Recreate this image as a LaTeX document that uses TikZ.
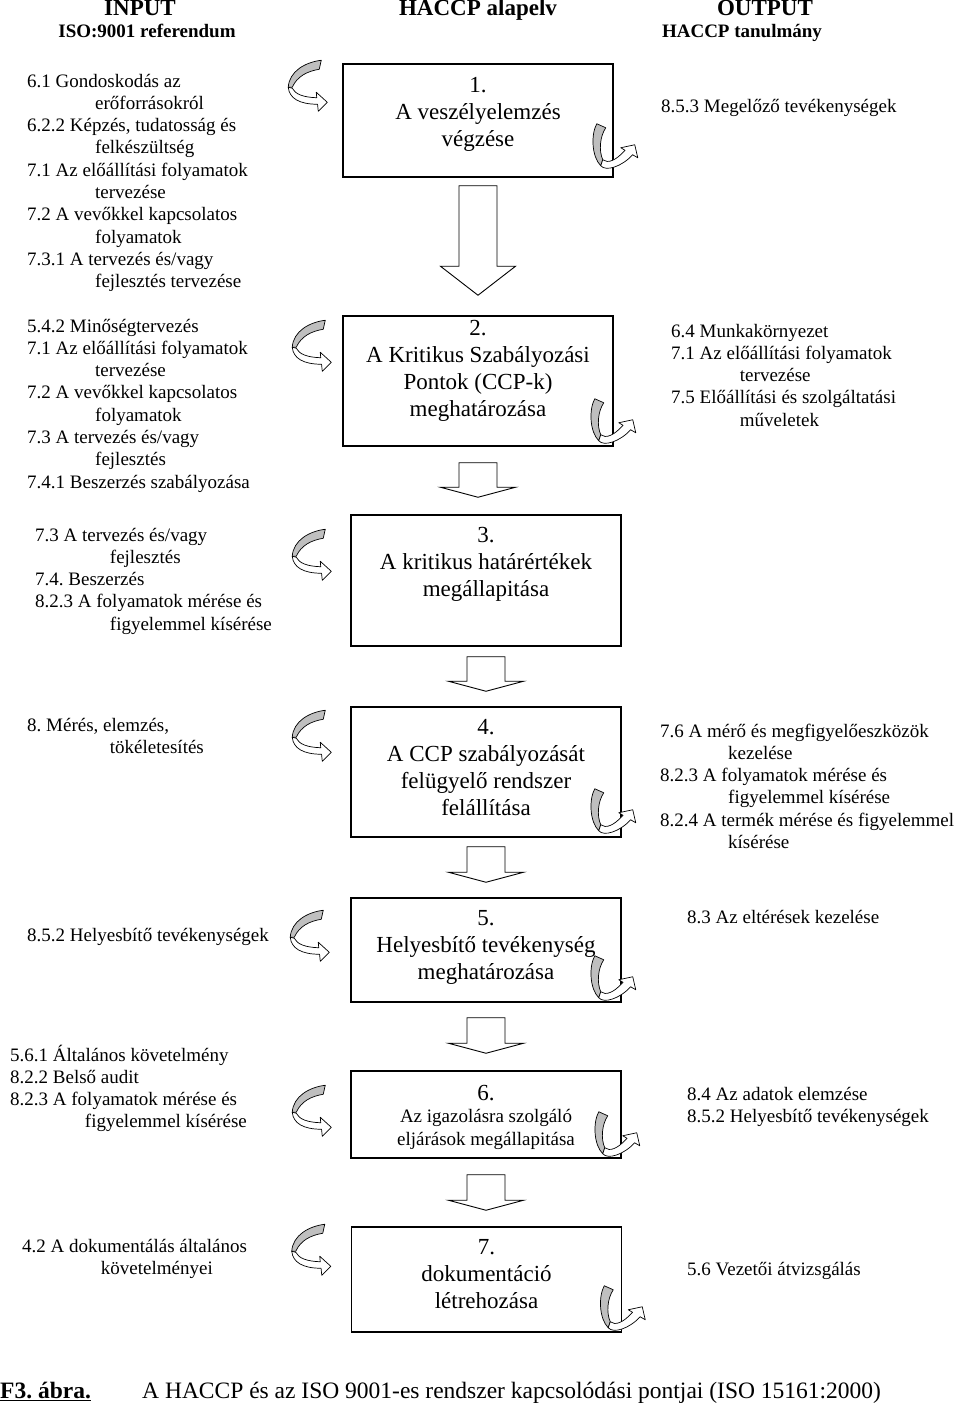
\documentclass[tikz,border=0pt]{standalone}
\usepackage{fontspec}
\setmainfont{Liberation Serif}
\usepackage{tikz}
\usetikzlibrary{calc}
\usetikzlibrary{positioning}
\frenchspacing

\newcommand{\ind}[1][68pt]{\hspace*{#1}}
\newcommand{\flowarrow}[5][10]{%
  \coordinate (fatop) at ($(#2.south)+(0,#4)$);
  \coordinate (fatip) at ($(#2.south|-#3.north)+(0,-#5)$);
  \draw[blockarrow] ($(fatop)+(-19,0)$) -- ($(fatop)+(19,0)$)
    -- ($(fatip)+(19,-#1)$) -- ($(fatip)+(37.5,-#1)$) -- (fatip)
    -- ($(fatip)+(-37.5,-#1)$) -- ($(fatip)+(-19,-#1)$) -- cycle;
}

\tikzset{
  hbox/.style={
    draw=black,
    line width=1.5pt,
    inner sep=0pt,
    minimum width=270pt,
  },
  htext/.style={
    align=center,
    inner sep=0pt,
    anchor=base,
    font=\fontsize{23}{27}\selectfont
  },
  reftext/.style={
    align=left,
    inner sep=0pt,
    anchor=base west,
    font=\fontsize{19}{22.3}\selectfont
  },
  headtext/.style={
    inner sep=0pt,
    anchor=base,
    font=\fontsize{23}{27}\selectfont\bfseries
  },
  subhead/.style={
    inner sep=0pt,
    anchor=base,
    font=\fontsize{19}{22}\selectfont\bfseries
  },
  captext/.style={
    inner sep=0pt,
    anchor=base west,
    font=\fontsize{23.5}{28}\selectfont
  },
  blockarrow/.style={
    draw=black,
    line width=0.9pt,
    fill=white,
    line join=miter,
  },
  band/.style={
    draw=black,
    line width=0.7pt,
    line join=round,
  },
  pics/inarrow/.style={code={
    \filldraw[band, fill=gray!50] (-6,-42) -- (-8,-33)
      .. controls (-20,-31) and (-30,-26) .. (-35,-15) -- (-39,-15)
      .. controls (-38,-31) and (-22,-40) .. cycle;
    \filldraw[band, fill=white] (-39,-15)
      .. controls (-38,-4) and (-28,2) .. (-9.7,2) -- (-9,9) -- (0,0)
      -- (-11,-10) -- (-10.5,-4.5)
      .. controls (-24,-5) and (-32,-8) .. (-35,-14) -- cycle;
  }},
  pics/outarrow/.style={code={
    \filldraw[band, fill=gray!50] (-9,-47) -- (0,-43)
      .. controls (-6,-34) and (-7,-20) .. (-3,-11) -- (-5,-5)
      .. controls (-14,-14) and (-15,-36) .. cycle;
    \filldraw[band, fill=white] (-5,-5)
      .. controls (0,1) and (16,-4) .. (26.9,-16) -- (32,-13) -- (29,-26)
      -- (15,-23) -- (19.25,-20.5)
      .. controls (10,-10) and (2,-7) .. (-3,-11) -- cycle;
  }},
}

\begin{document}
\begin{tikzpicture}[x=1pt, y=-1pt]
  \path[use as bounding box, fill=white] (0,0) rectangle (960,1408);

  % headings
  \node[headtext] (hin) at (140,16) {INPUT};
  \node[subhead] (hiso) at (147,37) {ISO:9001 referendum};
  \node[headtext] (hmid) at (478,16) {HACCP alapelv};
  \node[headtext] (hout) at (765,16) {OUTPUT};
  \node[subhead] (htan) at (742,37) {HACCP tanulmány};

  % HACCP steps
  \node[hbox, minimum height=113pt] (b1) at (478,120.5) {};
  \node[hbox, minimum height=130pt] (b2) at (478,381) {};
  \node[hbox, minimum height=131pt] (b3) at (486,580.5) {};
  \node[hbox, minimum height=130pt] (b4) at (486,772) {};
  \node[hbox, minimum height=104pt] (b5) at (486,950) {};
  \node[hbox, minimum height=87pt] (b6) at (486,1114.5) {};
  \node[hbox, minimum height=105pt] (b7) at (486.5,1279.5) {};

  % (base of a text = its last line)
  \node[htext] (t1) at ($(b1.north)+(0,83)$) {1.\\A veszélyelemzés\\végzése};
  \node[htext] (t2) at ($(b2.north)+(0,101)$) {2.\\A Kritikus Szabályozási\\Pontok (CCP-k)\\meghatározása};
  \node[htext] (t3) at ($(b3.north)+(0,82)$) {3.\\A kritikus határértékek\\megállapitása};
  \node[htext] (t4) at ($(b4.north)+(0,109)$) {4.\\A CCP szabályozását\\felügyelő rendszer\\felállítása};
  \node[htext] (t5) at ($(b5.north)+(0,82)$) {5.\\Helyesbítő tevékenység\\meghatározása};
  \node[htext, font=\fontsize{19}{22.5}\selectfont] (t6) at ($(b6.north)+(0,75)$)
    {{\fontsize{23}{27}\selectfont 6.}\\Az igazolásra szolgáló\\eljárások megállapitása};
  \node[htext] (t7) at ($(b7.north)+(0,82)$) {7.\\dokumentáció\\létrehozása};

  % block arrows between the steps
  \flowarrow[29]{b1}{b2}{8}{20}
  \flowarrow{b2}{b3}{16}{17}
  \flowarrow{b3}{b4}{10}{15}
  \flowarrow{b4}{b5}{9}{15}
  \flowarrow{b5}{b6}{15}{17}
  \flowarrow{b6}{b7}{16}{16}

  % ISO 9001 input
  \node[reftext] (in1) at (27,287.7) {6.1 Gondoskodás az\\\ind erőforrásokról\\6.2.2 Képzés, tudatosság és\\\ind felkészültség\\7.1 Az előállítási folyamatok\\\ind tervezése\\7.2 A vevőkkel kapcsolatos\\\ind folyamatok\\7.3.1 A tervezés és/vagy\\\ind fejlesztés tervezése};
  \node[reftext] (in2) at (27,488.1) {5.4.2 Minőségtervezés\\7.1 Az előállítási folyamatok\\\ind tervezése\\7.2 A vevőkkel kapcsolatos\\\ind folyamatok\\7.3 A tervezés és/vagy\\\ind fejlesztés\\7.4.1 Beszerzés szabályozása};
  \node[reftext] (in3) at (35,630.2) {7.3 A tervezés és/vagy\\\ind[70pt] fejlesztés\\7.4. Beszerzés\\8.2.3 A folyamatok mérése és\\\ind[70pt] figyelemmel kísérése};
  \node[reftext] (in4) at (27,753.3) {8. Mérés, elemzés,\\\ind[78pt] tökéletesítés};
  \node[reftext] (in5) at (27,941) {8.5.2 Helyesbítő tevékenységek};
  \node[reftext] (in6) at (10,1127.9) {5.6.1 Általános követelmény\\8.2.2 Belső audit\\8.2.3 A folyamatok mérése és\\\ind[70pt] figyelemmel kísérése};
  \node[reftext] (in7) at (22,1274.3) {4.2 A dokumentálás általános\\\ind[74pt] követelményei};

  % HACCP output
  \node[reftext] (out1) at (661,112) {8.5.3 Megelőző tevékenységek};
  \node[reftext] (out2) at (671,426.2) {6.4 Munkakörnyezet\\7.1 Az előállítási folyamatok\\\ind[64pt] tervezése\\7.5 Előállítási és szolgáltatási\\\ind[64pt] műveletek};
  \node[reftext] (out4) at (660,848.5) {7.6 A mérő és megfigyelőeszközök\\\ind kezelése\\8.2.3 A folyamatok mérése és\\\ind figyelemmel kísérése\\8.2.4 A termék mérése és figyelemmel\\\ind kísérése};
  \node[reftext] (out5) at (687,923) {8.3 Az eltérések kezelése};
  \node[reftext] (out6) at (687,1122.3) {8.4 Az adatok elemzése\\8.5.2 Helyesbítő tevékenységek};
  \node[reftext] (out7) at (687,1275) {5.6 Vezetői átvizsgálás};

  % curved arrows in and out
  \pic at ($(b1.north west)+(-15,39)$) {inarrow};
  \pic at ($(b2.north west)+(-11,47)$) {inarrow};
  \pic at ($(b3.north west)+(-19,57)$) {inarrow};
  \pic at ($(b4.north west)+(-19,46)$) {inarrow};
  \pic at ($(b5.north west)+(-21,55)$) {inarrow};
  \pic at ($(b6.north west)+(-19,57)$) {inarrow};
  \pic at ($(b7.north west)+(-20,40)$) {inarrow};

  \pic at ($(b1.south east)+(-8,-7)$) {outarrow};
  \pic at ($(b2.south east)+(-10,-1)$) {outarrow};
  \pic at ($(b4.south east)+(-18,-2)$) {outarrow};
  \pic at ($(b5.south east)+(-18,0)$) {outarrow};
  \pic at ($(b6.south east)+(-14,0)$) {outarrow};
  \pic at ($(b7.south east)+(-9,0)$) {outarrow};

  % caption
  \node[captext] (fig) at (0,1398) {\bfseries\underline{F3. ábra.}};
  \node[captext] (cap) at (142,1398) {A HACCP és az ISO 9001-es rendszer kapcsolódási pontjai (ISO 15161:2000)};
\end{tikzpicture}
\end{document}
